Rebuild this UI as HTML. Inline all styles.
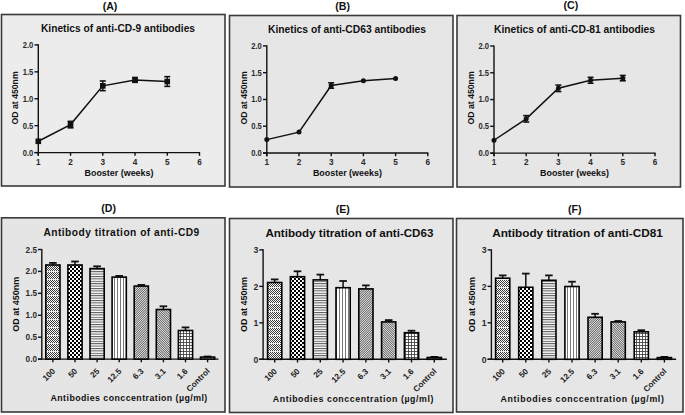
<!DOCTYPE html>
<html><head><meta charset="utf-8"><style>
html,body{margin:0;padding:0;background:#fff;}
svg{display:block;font-family:"Liberation Sans", sans-serif;}
</style></head><body>
<svg width="685" height="415" viewBox="0 0 685 415">
<defs>
<pattern id="p1" width="2" height="8" patternUnits="userSpaceOnUse"><rect width="2" height="8" fill="#fff"/><rect x="0" y="0" width="1" height="1" fill="#3a3a3a"/><rect x="1" y="1" width="1" height="1" fill="#3a3a3a"/><rect x="0" y="2" width="1" height="1" fill="#3a3a3a"/><rect x="1" y="3" width="1" height="1" fill="#3a3a3a"/><rect x="0" y="4" width="1" height="1" fill="#3a3a3a"/><rect x="1" y="5" width="1" height="1" fill="#3a3a3a"/><rect x="0" y="6" width="1" height="1" fill="#3a3a3a"/><rect y="7" width="2" height="1" fill="#e8e8e8"/></pattern>
<pattern id="p2" width="4" height="4" patternUnits="userSpaceOnUse"><rect width="4" height="4" fill="#fff"/><rect width="2" height="2" fill="#000"/><rect x="2" y="2" width="2" height="2" fill="#000"/></pattern>
<pattern id="p3" width="4" height="2.4" patternUnits="userSpaceOnUse"><rect width="4" height="2.4" fill="#fff"/><rect width="4" height="1" fill="#555"/></pattern>
<pattern id="p4" width="3" height="4" patternUnits="userSpaceOnUse"><rect width="3" height="4" fill="#fff"/><rect width="1" height="4" fill="#777"/></pattern>
<pattern id="p5" width="1.6" height="1.6" patternUnits="userSpaceOnUse" patternTransform="rotate(45)"><rect width="1.6" height="1.6" fill="#eee"/><rect width="0.7" height="1.6" fill="#444"/></pattern>
<pattern id="p6" width="1.6" height="1.6" patternUnits="userSpaceOnUse" patternTransform="rotate(-45)"><rect width="1.6" height="1.6" fill="#eee"/><rect width="0.7" height="1.6" fill="#444"/></pattern>
<pattern id="p7" width="3" height="3" patternUnits="userSpaceOnUse"><rect width="3" height="3" fill="#fff"/><rect width="3" height="0.8" fill="#333"/><rect width="0.8" height="3" fill="#333"/></pattern>
<pattern id="p8" width="3" height="2" patternUnits="userSpaceOnUse"><rect width="3" height="2" fill="#fff"/><rect width="1.5" height="2" fill="#888"/></pattern>
</defs>
<rect x="1.5" y="14.5" width="223.5" height="171.5" fill="#ececec" stroke="#3a3a3a" stroke-width="1.6"/>
<rect x="229.5" y="15.5" width="223.5" height="171.5" fill="#e6e6e6" stroke="#3a3a3a" stroke-width="1.6"/>
<rect x="457" y="15.5" width="223.5" height="171.5" fill="#e6e6e6" stroke="#3a3a3a" stroke-width="1.6"/>
<rect x="1.5" y="217.8" width="223.5" height="194.2" fill="#e5e5e5" stroke="#3a3a3a" stroke-width="1.6"/>
<rect x="229.5" y="218.5" width="223.5" height="194.0" fill="#e6e6e6" stroke="#3a3a3a" stroke-width="1.6"/>
<rect x="456.5" y="218.5" width="226.5" height="193.5" fill="#e6e6e6" stroke="#3a3a3a" stroke-width="1.6"/>
<text x="110.00" y="10.00" font-size="10.6" text-anchor="middle" font-weight="bold" fill="#111" >(A)</text>
<text x="342.60" y="9.60" font-size="10.6" text-anchor="middle" font-weight="bold" fill="#111" >(B)</text>
<text x="570.90" y="9.20" font-size="10.6" text-anchor="middle" font-weight="bold" fill="#111" >(C)</text>
<text x="108.70" y="212.30" font-size="10.6" text-anchor="middle" font-weight="bold" fill="#111" >(D)</text>
<text x="342.80" y="213.00" font-size="10.6" text-anchor="middle" font-weight="bold" fill="#111" >(E)</text>
<text x="574.80" y="213.00" font-size="10.6" text-anchor="middle" font-weight="bold" fill="#111" >(F)</text>
<text x="118.00" y="31.60" font-size="10.2" text-anchor="middle" font-weight="bold" fill="#111" textLength="154" lengthAdjust="spacingAndGlyphs" >Kinetics of anti-CD-9 antibodies</text>
<line x1="38.30" y1="44.30" x2="38.30" y2="155.80" stroke="#111" stroke-width="1.4"/>
<line x1="34.50" y1="152.60" x2="200.10" y2="152.60" stroke="#111" stroke-width="1.4"/>
<line x1="34.50" y1="152.60" x2="38.30" y2="152.60" stroke="#111" stroke-width="1.4"/>
<text x="33.30" y="155.50" font-size="8.2" text-anchor="end" font-weight="bold" fill="#2a2a2a" textLength="10.6" lengthAdjust="spacingAndGlyphs" >0.0</text>
<line x1="34.50" y1="125.67" x2="38.30" y2="125.67" stroke="#111" stroke-width="1.4"/>
<text x="33.30" y="128.57" font-size="8.2" text-anchor="end" font-weight="bold" fill="#2a2a2a" textLength="10.6" lengthAdjust="spacingAndGlyphs" >0.5</text>
<line x1="34.50" y1="98.75" x2="38.30" y2="98.75" stroke="#111" stroke-width="1.4"/>
<text x="33.30" y="101.65" font-size="8.2" text-anchor="end" font-weight="bold" fill="#2a2a2a" textLength="10.6" lengthAdjust="spacingAndGlyphs" >1.0</text>
<line x1="34.50" y1="71.83" x2="38.30" y2="71.83" stroke="#111" stroke-width="1.4"/>
<text x="33.30" y="74.73" font-size="8.2" text-anchor="end" font-weight="bold" fill="#2a2a2a" textLength="10.6" lengthAdjust="spacingAndGlyphs" >1.5</text>
<line x1="34.50" y1="44.90" x2="38.30" y2="44.90" stroke="#111" stroke-width="1.4"/>
<text x="33.30" y="47.80" font-size="8.2" text-anchor="end" font-weight="bold" fill="#2a2a2a" textLength="10.6" lengthAdjust="spacingAndGlyphs" >2.0</text>
<line x1="38.30" y1="152.60" x2="38.30" y2="155.80" stroke="#111" stroke-width="1.4"/>
<text x="38.30" y="164.80" font-size="8.2" text-anchor="middle" font-weight="bold" fill="#2a2a2a" >1</text>
<line x1="70.54" y1="152.60" x2="70.54" y2="155.80" stroke="#111" stroke-width="1.4"/>
<text x="70.54" y="164.80" font-size="8.2" text-anchor="middle" font-weight="bold" fill="#2a2a2a" >2</text>
<line x1="102.78" y1="152.60" x2="102.78" y2="155.80" stroke="#111" stroke-width="1.4"/>
<text x="102.78" y="164.80" font-size="8.2" text-anchor="middle" font-weight="bold" fill="#2a2a2a" >3</text>
<line x1="135.02" y1="152.60" x2="135.02" y2="155.80" stroke="#111" stroke-width="1.4"/>
<text x="135.02" y="164.80" font-size="8.2" text-anchor="middle" font-weight="bold" fill="#2a2a2a" >4</text>
<line x1="167.26" y1="152.60" x2="167.26" y2="155.80" stroke="#111" stroke-width="1.4"/>
<text x="167.26" y="164.80" font-size="8.2" text-anchor="middle" font-weight="bold" fill="#2a2a2a" >5</text>
<line x1="199.50" y1="152.60" x2="199.50" y2="155.80" stroke="#111" stroke-width="1.4"/>
<text x="199.50" y="164.80" font-size="8.2" text-anchor="middle" font-weight="bold" fill="#2a2a2a" >6</text>
<text transform="translate(15.30,97.9) rotate(-90)" x="0" y="3" font-size="8.7" text-anchor="middle" font-weight="bold" fill="#111" textLength="53" lengthAdjust="spacingAndGlyphs">OD at 450nm</text>
<text x="119.00" y="176.20" font-size="9" text-anchor="middle" font-weight="bold" fill="#111" textLength="69" lengthAdjust="spacingAndGlyphs" >Booster (weeks)</text>
<polyline fill="none" stroke="#111" stroke-width="1.5" points="38.30,141.29 70.54,124.60 102.78,85.83 135.02,79.90 167.26,81.52"/>
<rect x="35.50" y="138.49" width="5.6" height="5.6" fill="#111"/>
<line x1="70.54" y1="121.37" x2="70.54" y2="127.83" stroke="#111" stroke-width="1.4"/>
<line x1="67.54" y1="121.37" x2="73.54" y2="121.37" stroke="#111" stroke-width="1.6"/>
<line x1="67.54" y1="127.83" x2="73.54" y2="127.83" stroke="#111" stroke-width="1.6"/>
<rect x="67.74" y="121.80" width="5.6" height="5.6" fill="#111"/>
<line x1="102.78" y1="80.98" x2="102.78" y2="90.67" stroke="#111" stroke-width="1.4"/>
<line x1="99.78" y1="80.98" x2="105.78" y2="80.98" stroke="#111" stroke-width="1.6"/>
<line x1="99.78" y1="90.67" x2="105.78" y2="90.67" stroke="#111" stroke-width="1.6"/>
<rect x="99.98" y="83.03" width="5.6" height="5.6" fill="#111"/>
<line x1="135.02" y1="77.48" x2="135.02" y2="82.33" stroke="#111" stroke-width="1.4"/>
<line x1="132.02" y1="77.48" x2="138.02" y2="77.48" stroke="#111" stroke-width="1.6"/>
<line x1="132.02" y1="82.33" x2="138.02" y2="82.33" stroke="#111" stroke-width="1.6"/>
<rect x="132.22" y="77.10" width="5.6" height="5.6" fill="#111"/>
<line x1="167.26" y1="76.67" x2="167.26" y2="86.36" stroke="#111" stroke-width="1.4"/>
<line x1="164.26" y1="76.67" x2="170.26" y2="76.67" stroke="#111" stroke-width="1.6"/>
<line x1="164.26" y1="86.36" x2="170.26" y2="86.36" stroke="#111" stroke-width="1.6"/>
<rect x="164.46" y="78.72" width="5.6" height="5.6" fill="#111"/>
<text x="347.00" y="33.00" font-size="10.2" text-anchor="middle" font-weight="bold" fill="#111" textLength="158" lengthAdjust="spacingAndGlyphs" >Kinetics of anti-CD63 antibodies</text>
<line x1="266.80" y1="45.30" x2="266.80" y2="156.20" stroke="#111" stroke-width="1.4"/>
<line x1="263.00" y1="153.00" x2="428.40" y2="153.00" stroke="#111" stroke-width="1.4"/>
<line x1="263.00" y1="153.00" x2="266.80" y2="153.00" stroke="#111" stroke-width="1.4"/>
<text x="261.80" y="155.90" font-size="8.2" text-anchor="end" font-weight="bold" fill="#2a2a2a" textLength="10.6" lengthAdjust="spacingAndGlyphs" >0.0</text>
<line x1="263.00" y1="126.22" x2="266.80" y2="126.22" stroke="#111" stroke-width="1.4"/>
<text x="261.80" y="129.12" font-size="8.2" text-anchor="end" font-weight="bold" fill="#2a2a2a" textLength="10.6" lengthAdjust="spacingAndGlyphs" >0.5</text>
<line x1="263.00" y1="99.45" x2="266.80" y2="99.45" stroke="#111" stroke-width="1.4"/>
<text x="261.80" y="102.35" font-size="8.2" text-anchor="end" font-weight="bold" fill="#2a2a2a" textLength="10.6" lengthAdjust="spacingAndGlyphs" >1.0</text>
<line x1="263.00" y1="72.68" x2="266.80" y2="72.68" stroke="#111" stroke-width="1.4"/>
<text x="261.80" y="75.58" font-size="8.2" text-anchor="end" font-weight="bold" fill="#2a2a2a" textLength="10.6" lengthAdjust="spacingAndGlyphs" >1.5</text>
<line x1="263.00" y1="45.90" x2="266.80" y2="45.90" stroke="#111" stroke-width="1.4"/>
<text x="261.80" y="48.80" font-size="8.2" text-anchor="end" font-weight="bold" fill="#2a2a2a" textLength="10.6" lengthAdjust="spacingAndGlyphs" >2.0</text>
<line x1="266.80" y1="153.00" x2="266.80" y2="156.20" stroke="#111" stroke-width="1.4"/>
<text x="266.80" y="165.20" font-size="8.2" text-anchor="middle" font-weight="bold" fill="#2a2a2a" >1</text>
<line x1="299.00" y1="153.00" x2="299.00" y2="156.20" stroke="#111" stroke-width="1.4"/>
<text x="299.00" y="165.20" font-size="8.2" text-anchor="middle" font-weight="bold" fill="#2a2a2a" >2</text>
<line x1="331.20" y1="153.00" x2="331.20" y2="156.20" stroke="#111" stroke-width="1.4"/>
<text x="331.20" y="165.20" font-size="8.2" text-anchor="middle" font-weight="bold" fill="#2a2a2a" >3</text>
<line x1="363.40" y1="153.00" x2="363.40" y2="156.20" stroke="#111" stroke-width="1.4"/>
<text x="363.40" y="165.20" font-size="8.2" text-anchor="middle" font-weight="bold" fill="#2a2a2a" >4</text>
<line x1="395.60" y1="153.00" x2="395.60" y2="156.20" stroke="#111" stroke-width="1.4"/>
<text x="395.60" y="165.20" font-size="8.2" text-anchor="middle" font-weight="bold" fill="#2a2a2a" >5</text>
<line x1="427.80" y1="153.00" x2="427.80" y2="156.20" stroke="#111" stroke-width="1.4"/>
<text x="427.80" y="165.20" font-size="8.2" text-anchor="middle" font-weight="bold" fill="#2a2a2a" >6</text>
<text transform="translate(243.60,97.9) rotate(-90)" x="0" y="3" font-size="8.7" text-anchor="middle" font-weight="bold" fill="#111" textLength="53" lengthAdjust="spacingAndGlyphs">OD at 450nm</text>
<text x="347.40" y="176.40" font-size="9" text-anchor="middle" font-weight="bold" fill="#111" textLength="69" lengthAdjust="spacingAndGlyphs" >Booster (weeks)</text>
<polyline fill="none" stroke="#111" stroke-width="1.5" points="266.80,139.61 299.00,132.12 331.20,85.53 363.40,80.71 395.60,78.57"/>
<circle cx="266.80" cy="139.61" r="2.5" fill="#111"/>
<circle cx="299.00" cy="132.12" r="2.5" fill="#111"/>
<line x1="331.20" y1="82.85" x2="331.20" y2="88.20" stroke="#111" stroke-width="1.4"/>
<line x1="328.20" y1="82.85" x2="334.20" y2="82.85" stroke="#111" stroke-width="1.6"/>
<line x1="328.20" y1="88.20" x2="334.20" y2="88.20" stroke="#111" stroke-width="1.6"/>
<circle cx="331.20" cy="85.53" r="2.5" fill="#111"/>
<circle cx="363.40" cy="80.71" r="2.5" fill="#111"/>
<circle cx="395.60" cy="78.57" r="2.5" fill="#111"/>
<text x="574.50" y="33.00" font-size="10.2" text-anchor="middle" font-weight="bold" fill="#111" textLength="161" lengthAdjust="spacingAndGlyphs" >Kinetics of anti-CD-81 antibodies</text>
<line x1="494.00" y1="45.40" x2="494.00" y2="156.30" stroke="#111" stroke-width="1.4"/>
<line x1="490.20" y1="153.10" x2="655.60" y2="153.10" stroke="#111" stroke-width="1.4"/>
<line x1="490.20" y1="153.10" x2="494.00" y2="153.10" stroke="#111" stroke-width="1.4"/>
<text x="489.00" y="156.00" font-size="8.2" text-anchor="end" font-weight="bold" fill="#2a2a2a" textLength="10.6" lengthAdjust="spacingAndGlyphs" >0.0</text>
<line x1="490.20" y1="126.32" x2="494.00" y2="126.32" stroke="#111" stroke-width="1.4"/>
<text x="489.00" y="129.22" font-size="8.2" text-anchor="end" font-weight="bold" fill="#2a2a2a" textLength="10.6" lengthAdjust="spacingAndGlyphs" >0.5</text>
<line x1="490.20" y1="99.55" x2="494.00" y2="99.55" stroke="#111" stroke-width="1.4"/>
<text x="489.00" y="102.45" font-size="8.2" text-anchor="end" font-weight="bold" fill="#2a2a2a" textLength="10.6" lengthAdjust="spacingAndGlyphs" >1.0</text>
<line x1="490.20" y1="72.78" x2="494.00" y2="72.78" stroke="#111" stroke-width="1.4"/>
<text x="489.00" y="75.68" font-size="8.2" text-anchor="end" font-weight="bold" fill="#2a2a2a" textLength="10.6" lengthAdjust="spacingAndGlyphs" >1.5</text>
<line x1="490.20" y1="46.00" x2="494.00" y2="46.00" stroke="#111" stroke-width="1.4"/>
<text x="489.00" y="48.90" font-size="8.2" text-anchor="end" font-weight="bold" fill="#2a2a2a" textLength="10.6" lengthAdjust="spacingAndGlyphs" >2.0</text>
<line x1="494.00" y1="153.10" x2="494.00" y2="156.30" stroke="#111" stroke-width="1.4"/>
<text x="494.00" y="165.30" font-size="8.2" text-anchor="middle" font-weight="bold" fill="#2a2a2a" >1</text>
<line x1="526.20" y1="153.10" x2="526.20" y2="156.30" stroke="#111" stroke-width="1.4"/>
<text x="526.20" y="165.30" font-size="8.2" text-anchor="middle" font-weight="bold" fill="#2a2a2a" >2</text>
<line x1="558.40" y1="153.10" x2="558.40" y2="156.30" stroke="#111" stroke-width="1.4"/>
<text x="558.40" y="165.30" font-size="8.2" text-anchor="middle" font-weight="bold" fill="#2a2a2a" >3</text>
<line x1="590.60" y1="153.10" x2="590.60" y2="156.30" stroke="#111" stroke-width="1.4"/>
<text x="590.60" y="165.30" font-size="8.2" text-anchor="middle" font-weight="bold" fill="#2a2a2a" >4</text>
<line x1="622.80" y1="153.10" x2="622.80" y2="156.30" stroke="#111" stroke-width="1.4"/>
<text x="622.80" y="165.30" font-size="8.2" text-anchor="middle" font-weight="bold" fill="#2a2a2a" >5</text>
<line x1="655.00" y1="153.10" x2="655.00" y2="156.30" stroke="#111" stroke-width="1.4"/>
<text x="655.00" y="165.30" font-size="8.2" text-anchor="middle" font-weight="bold" fill="#2a2a2a" >6</text>
<text transform="translate(470.70,97.9) rotate(-90)" x="0" y="3" font-size="8.7" text-anchor="middle" font-weight="bold" fill="#111" textLength="53" lengthAdjust="spacingAndGlyphs">OD at 450nm</text>
<text x="574.50" y="176.40" font-size="9" text-anchor="middle" font-weight="bold" fill="#111" textLength="69" lengthAdjust="spacingAndGlyphs" >Booster (weeks)</text>
<polyline fill="none" stroke="#111" stroke-width="1.5" points="494.00,140.25 526.20,118.83 558.40,88.30 590.60,80.27 622.80,78.13"/>
<circle cx="494.00" cy="140.25" r="2.5" fill="#111"/>
<line x1="526.20" y1="115.62" x2="526.20" y2="122.04" stroke="#111" stroke-width="1.4"/>
<line x1="523.20" y1="115.62" x2="529.20" y2="115.62" stroke="#111" stroke-width="1.6"/>
<line x1="523.20" y1="122.04" x2="529.20" y2="122.04" stroke="#111" stroke-width="1.6"/>
<circle cx="526.20" cy="118.83" r="2.5" fill="#111"/>
<line x1="558.40" y1="85.09" x2="558.40" y2="91.52" stroke="#111" stroke-width="1.4"/>
<line x1="555.40" y1="85.09" x2="561.40" y2="85.09" stroke="#111" stroke-width="1.6"/>
<line x1="555.40" y1="91.52" x2="561.40" y2="91.52" stroke="#111" stroke-width="1.6"/>
<circle cx="558.40" cy="88.30" r="2.5" fill="#111"/>
<line x1="590.60" y1="77.33" x2="590.60" y2="83.22" stroke="#111" stroke-width="1.4"/>
<line x1="587.60" y1="77.33" x2="593.60" y2="77.33" stroke="#111" stroke-width="1.6"/>
<line x1="587.60" y1="83.22" x2="593.60" y2="83.22" stroke="#111" stroke-width="1.6"/>
<circle cx="590.60" cy="80.27" r="2.5" fill="#111"/>
<line x1="622.80" y1="75.45" x2="622.80" y2="80.81" stroke="#111" stroke-width="1.4"/>
<line x1="619.80" y1="75.45" x2="625.80" y2="75.45" stroke="#111" stroke-width="1.6"/>
<line x1="619.80" y1="80.81" x2="625.80" y2="80.81" stroke="#111" stroke-width="1.6"/>
<circle cx="622.80" cy="78.13" r="2.5" fill="#111"/>
<text x="121.30" y="236.20" font-size="10.2" text-anchor="middle" font-weight="bold" fill="#111" textLength="155.8" lengthAdjust="spacing" >Antibody titration of anti-CD9</text>
<line x1="41.80" y1="248.90" x2="41.80" y2="359.70" stroke="#111" stroke-width="1.4"/>
<line x1="38.00" y1="359.10" x2="218.50" y2="359.10" stroke="#111" stroke-width="1.4"/>
<line x1="38.00" y1="359.10" x2="41.80" y2="359.10" stroke="#111" stroke-width="1.4"/>
<text x="37.00" y="362.10" font-size="8.2" text-anchor="end" font-weight="bold" fill="#2a2a2a" textLength="11.4" lengthAdjust="spacingAndGlyphs" >0.0</text>
<line x1="38.00" y1="337.18" x2="41.80" y2="337.18" stroke="#111" stroke-width="1.4"/>
<text x="37.00" y="340.18" font-size="8.2" text-anchor="end" font-weight="bold" fill="#2a2a2a" textLength="11.4" lengthAdjust="spacingAndGlyphs" >0.5</text>
<line x1="38.00" y1="315.26" x2="41.80" y2="315.26" stroke="#111" stroke-width="1.4"/>
<text x="37.00" y="318.26" font-size="8.2" text-anchor="end" font-weight="bold" fill="#2a2a2a" textLength="11.4" lengthAdjust="spacingAndGlyphs" >1.0</text>
<line x1="38.00" y1="293.34" x2="41.80" y2="293.34" stroke="#111" stroke-width="1.4"/>
<text x="37.00" y="296.34" font-size="8.2" text-anchor="end" font-weight="bold" fill="#2a2a2a" textLength="11.4" lengthAdjust="spacingAndGlyphs" >1.5</text>
<line x1="38.00" y1="271.42" x2="41.80" y2="271.42" stroke="#111" stroke-width="1.4"/>
<text x="37.00" y="274.42" font-size="8.2" text-anchor="end" font-weight="bold" fill="#2a2a2a" textLength="11.4" lengthAdjust="spacingAndGlyphs" >2.0</text>
<line x1="38.00" y1="249.50" x2="41.80" y2="249.50" stroke="#111" stroke-width="1.4"/>
<text x="37.00" y="252.50" font-size="8.2" text-anchor="end" font-weight="bold" fill="#2a2a2a" textLength="11.4" lengthAdjust="spacingAndGlyphs" >2.5</text>
<line x1="52.90" y1="262.90" x2="52.90" y2="265.20" stroke="#111" stroke-width="1.5"/>
<line x1="49.10" y1="262.90" x2="56.70" y2="262.90" stroke="#111" stroke-width="1.8"/>
<rect x="45.80" y="265.00" width="14.2" height="94.10" fill="url(#p1)" stroke="#000" stroke-width="1.6"/>
<line x1="52.90" y1="359.10" x2="52.90" y2="362.30" stroke="#111" stroke-width="1.4"/>
<text transform="translate(53.60,369.60) rotate(-45)" x="0" y="3" font-size="8.2" text-anchor="end" font-weight="bold" fill="#222">100</text>
<line x1="75.00" y1="261.50" x2="75.00" y2="265.20" stroke="#111" stroke-width="1.5"/>
<line x1="71.20" y1="261.50" x2="78.80" y2="261.50" stroke="#111" stroke-width="1.8"/>
<rect x="67.90" y="265.00" width="14.2" height="94.10" fill="url(#p2)" stroke="#000" stroke-width="1.6"/>
<line x1="75.00" y1="359.10" x2="75.00" y2="362.30" stroke="#111" stroke-width="1.4"/>
<text transform="translate(75.70,369.60) rotate(-45)" x="0" y="3" font-size="8.2" text-anchor="end" font-weight="bold" fill="#222">50</text>
<line x1="97.10" y1="266.30" x2="97.10" y2="268.80" stroke="#111" stroke-width="1.5"/>
<line x1="93.30" y1="266.30" x2="100.90" y2="266.30" stroke="#111" stroke-width="1.8"/>
<rect x="90.00" y="268.60" width="14.2" height="90.50" fill="url(#p3)" stroke="#000" stroke-width="1.6"/>
<line x1="97.10" y1="359.10" x2="97.10" y2="362.30" stroke="#111" stroke-width="1.4"/>
<text transform="translate(97.80,369.60) rotate(-45)" x="0" y="3" font-size="8.2" text-anchor="end" font-weight="bold" fill="#222">25</text>
<line x1="119.20" y1="275.90" x2="119.20" y2="277.30" stroke="#111" stroke-width="1.5"/>
<line x1="115.40" y1="275.90" x2="123.00" y2="275.90" stroke="#111" stroke-width="1.8"/>
<rect x="112.10" y="277.10" width="14.2" height="82.00" fill="url(#p4)" stroke="#000" stroke-width="1.6"/>
<line x1="119.20" y1="359.10" x2="119.20" y2="362.30" stroke="#111" stroke-width="1.4"/>
<text transform="translate(119.90,369.60) rotate(-45)" x="0" y="3" font-size="8.2" text-anchor="end" font-weight="bold" fill="#222">12.5</text>
<line x1="141.30" y1="284.90" x2="141.30" y2="286.30" stroke="#111" stroke-width="1.5"/>
<line x1="137.50" y1="284.90" x2="145.10" y2="284.90" stroke="#111" stroke-width="1.8"/>
<rect x="134.20" y="286.10" width="14.2" height="73.00" fill="url(#p5)" stroke="#000" stroke-width="1.6"/>
<line x1="141.30" y1="359.10" x2="141.30" y2="362.30" stroke="#111" stroke-width="1.4"/>
<text transform="translate(142.00,369.60) rotate(-45)" x="0" y="3" font-size="8.2" text-anchor="end" font-weight="bold" fill="#222">6.3</text>
<line x1="163.40" y1="306.30" x2="163.40" y2="309.70" stroke="#111" stroke-width="1.5"/>
<line x1="159.60" y1="306.30" x2="167.20" y2="306.30" stroke="#111" stroke-width="1.8"/>
<rect x="156.30" y="309.50" width="14.2" height="49.60" fill="url(#p6)" stroke="#000" stroke-width="1.6"/>
<line x1="163.40" y1="359.10" x2="163.40" y2="362.30" stroke="#111" stroke-width="1.4"/>
<text transform="translate(164.10,369.60) rotate(-45)" x="0" y="3" font-size="8.2" text-anchor="end" font-weight="bold" fill="#222">3.1</text>
<line x1="185.50" y1="327.40" x2="185.50" y2="330.70" stroke="#111" stroke-width="1.5"/>
<line x1="181.70" y1="327.40" x2="189.30" y2="327.40" stroke="#111" stroke-width="1.8"/>
<rect x="178.40" y="330.50" width="14.2" height="28.60" fill="url(#p7)" stroke="#000" stroke-width="1.6"/>
<line x1="185.50" y1="359.10" x2="185.50" y2="362.30" stroke="#111" stroke-width="1.4"/>
<text transform="translate(186.20,369.60) rotate(-45)" x="0" y="3" font-size="8.2" text-anchor="end" font-weight="bold" fill="#222">1.6</text>
<line x1="207.60" y1="356.50" x2="207.60" y2="357.30" stroke="#111" stroke-width="1.5"/>
<line x1="203.80" y1="356.50" x2="211.40" y2="356.50" stroke="#111" stroke-width="1.8"/>
<rect x="200.50" y="357.10" width="14.2" height="2.00" fill="url(#p8)" stroke="#000" stroke-width="1.6"/>
<line x1="207.60" y1="359.10" x2="207.60" y2="362.30" stroke="#111" stroke-width="1.4"/>
<text transform="translate(208.30,369.60) rotate(-45)" x="0" y="3" font-size="8.2" text-anchor="end" font-weight="bold" fill="#222">Control</text>
<text transform="translate(16.40,304.30) rotate(-90)" x="0" y="3" font-size="8.8" text-anchor="middle" font-weight="bold" fill="#111" textLength="55" lengthAdjust="spacingAndGlyphs">OD at 450nm</text>
<text x="128.90" y="401.20" font-size="8.8" text-anchor="middle" font-weight="bold" fill="#111" textLength="156.8" lengthAdjust="spacing">Antibodies conccentration (µg/ml)</text>
<text x="349.40" y="237.20" font-size="11.5" text-anchor="middle" font-weight="bold" fill="#111" textLength="168" lengthAdjust="spacingAndGlyphs" >Antibody titration of anti-CD63</text>
<line x1="263.10" y1="249.30" x2="263.10" y2="359.90" stroke="#111" stroke-width="1.4"/>
<line x1="259.30" y1="359.30" x2="446.90" y2="359.30" stroke="#111" stroke-width="1.4"/>
<line x1="259.30" y1="359.30" x2="263.10" y2="359.30" stroke="#111" stroke-width="1.4"/>
<text x="258.30" y="362.70" font-size="9.4" text-anchor="end" font-weight="bold" fill="#2a2a2a" textLength="4.8" lengthAdjust="spacingAndGlyphs" >0</text>
<line x1="259.30" y1="322.83" x2="263.10" y2="322.83" stroke="#111" stroke-width="1.4"/>
<text x="258.30" y="326.23" font-size="9.4" text-anchor="end" font-weight="bold" fill="#2a2a2a" textLength="4.8" lengthAdjust="spacingAndGlyphs" >1</text>
<line x1="259.30" y1="286.37" x2="263.10" y2="286.37" stroke="#111" stroke-width="1.4"/>
<text x="258.30" y="289.77" font-size="9.4" text-anchor="end" font-weight="bold" fill="#2a2a2a" textLength="4.8" lengthAdjust="spacingAndGlyphs" >2</text>
<line x1="259.30" y1="249.90" x2="263.10" y2="249.90" stroke="#111" stroke-width="1.4"/>
<text x="258.30" y="253.30" font-size="9.4" text-anchor="end" font-weight="bold" fill="#2a2a2a" textLength="4.8" lengthAdjust="spacingAndGlyphs" >3</text>
<line x1="274.70" y1="279.40" x2="274.70" y2="282.70" stroke="#111" stroke-width="1.5"/>
<line x1="270.90" y1="279.40" x2="278.50" y2="279.40" stroke="#111" stroke-width="1.8"/>
<rect x="267.60" y="282.50" width="14.2" height="76.80" fill="url(#p1)" stroke="#000" stroke-width="1.6"/>
<line x1="274.70" y1="359.30" x2="274.70" y2="362.50" stroke="#111" stroke-width="1.4"/>
<text transform="translate(275.40,369.80) rotate(-45)" x="0" y="3" font-size="8.2" text-anchor="end" font-weight="bold" fill="#222">100</text>
<line x1="297.50" y1="271.30" x2="297.50" y2="276.90" stroke="#111" stroke-width="1.5"/>
<line x1="293.70" y1="271.30" x2="301.30" y2="271.30" stroke="#111" stroke-width="1.8"/>
<rect x="290.40" y="276.70" width="14.2" height="82.60" fill="url(#p2)" stroke="#000" stroke-width="1.6"/>
<line x1="297.50" y1="359.30" x2="297.50" y2="362.50" stroke="#111" stroke-width="1.4"/>
<text transform="translate(298.20,369.80) rotate(-45)" x="0" y="3" font-size="8.2" text-anchor="end" font-weight="bold" fill="#222">50</text>
<line x1="320.30" y1="274.60" x2="320.30" y2="280.10" stroke="#111" stroke-width="1.5"/>
<line x1="316.50" y1="274.60" x2="324.10" y2="274.60" stroke="#111" stroke-width="1.8"/>
<rect x="313.20" y="279.90" width="14.2" height="79.40" fill="url(#p3)" stroke="#000" stroke-width="1.6"/>
<line x1="320.30" y1="359.30" x2="320.30" y2="362.50" stroke="#111" stroke-width="1.4"/>
<text transform="translate(321.00,369.80) rotate(-45)" x="0" y="3" font-size="8.2" text-anchor="end" font-weight="bold" fill="#222">25</text>
<line x1="343.10" y1="281.00" x2="343.10" y2="287.90" stroke="#111" stroke-width="1.5"/>
<line x1="339.30" y1="281.00" x2="346.90" y2="281.00" stroke="#111" stroke-width="1.8"/>
<rect x="336.00" y="287.70" width="14.2" height="71.60" fill="url(#p4)" stroke="#000" stroke-width="1.6"/>
<line x1="343.10" y1="359.30" x2="343.10" y2="362.50" stroke="#111" stroke-width="1.4"/>
<text transform="translate(343.80,369.80) rotate(-45)" x="0" y="3" font-size="8.2" text-anchor="end" font-weight="bold" fill="#222">12.5</text>
<line x1="365.90" y1="285.40" x2="365.90" y2="289.10" stroke="#111" stroke-width="1.5"/>
<line x1="362.10" y1="285.40" x2="369.70" y2="285.40" stroke="#111" stroke-width="1.8"/>
<rect x="358.80" y="288.90" width="14.2" height="70.40" fill="url(#p5)" stroke="#000" stroke-width="1.6"/>
<line x1="365.90" y1="359.30" x2="365.90" y2="362.50" stroke="#111" stroke-width="1.4"/>
<text transform="translate(366.60,369.80) rotate(-45)" x="0" y="3" font-size="8.2" text-anchor="end" font-weight="bold" fill="#222">6.3</text>
<line x1="388.70" y1="320.10" x2="388.70" y2="322.10" stroke="#111" stroke-width="1.5"/>
<line x1="384.90" y1="320.10" x2="392.50" y2="320.10" stroke="#111" stroke-width="1.8"/>
<rect x="381.60" y="321.90" width="14.2" height="37.40" fill="url(#p6)" stroke="#000" stroke-width="1.6"/>
<line x1="388.70" y1="359.30" x2="388.70" y2="362.50" stroke="#111" stroke-width="1.4"/>
<text transform="translate(389.40,369.80) rotate(-45)" x="0" y="3" font-size="8.2" text-anchor="end" font-weight="bold" fill="#222">3.1</text>
<line x1="411.50" y1="330.70" x2="411.50" y2="332.90" stroke="#111" stroke-width="1.5"/>
<line x1="407.70" y1="330.70" x2="415.30" y2="330.70" stroke="#111" stroke-width="1.8"/>
<rect x="404.40" y="332.70" width="14.2" height="26.60" fill="url(#p7)" stroke="#000" stroke-width="1.6"/>
<line x1="411.50" y1="359.30" x2="411.50" y2="362.50" stroke="#111" stroke-width="1.4"/>
<text transform="translate(412.20,369.80) rotate(-45)" x="0" y="3" font-size="8.2" text-anchor="end" font-weight="bold" fill="#222">1.6</text>
<line x1="434.30" y1="356.90" x2="434.30" y2="357.70" stroke="#111" stroke-width="1.5"/>
<line x1="430.50" y1="356.90" x2="438.10" y2="356.90" stroke="#111" stroke-width="1.8"/>
<rect x="427.20" y="357.50" width="14.2" height="1.80" fill="url(#p8)" stroke="#000" stroke-width="1.6"/>
<line x1="434.30" y1="359.30" x2="434.30" y2="362.50" stroke="#111" stroke-width="1.4"/>
<text transform="translate(435.00,369.80) rotate(-45)" x="0" y="3" font-size="8.2" text-anchor="end" font-weight="bold" fill="#222">Control</text>
<text transform="translate(244.00,304.60) rotate(-90)" x="0" y="3" font-size="8.8" text-anchor="middle" font-weight="bold" fill="#111" textLength="55" lengthAdjust="spacingAndGlyphs">OD at 450nm</text>
<text x="353.10" y="401.80" font-size="8.8" text-anchor="middle" font-weight="bold" fill="#111" textLength="160.6" lengthAdjust="spacing">Antibodies conccentration (µg/ml)</text>
<text x="577.50" y="237.20" font-size="11.7" text-anchor="middle" font-weight="bold" fill="#111" textLength="170.6" lengthAdjust="spacingAndGlyphs" >Antibody titration of anti-CD81</text>
<line x1="491.40" y1="249.30" x2="491.40" y2="359.90" stroke="#111" stroke-width="1.4"/>
<line x1="487.60" y1="359.30" x2="676.10" y2="359.30" stroke="#111" stroke-width="1.4"/>
<line x1="487.60" y1="359.30" x2="491.40" y2="359.30" stroke="#111" stroke-width="1.4"/>
<text x="486.60" y="362.70" font-size="9.4" text-anchor="end" font-weight="bold" fill="#2a2a2a" textLength="4.8" lengthAdjust="spacingAndGlyphs" >0</text>
<line x1="487.60" y1="322.83" x2="491.40" y2="322.83" stroke="#111" stroke-width="1.4"/>
<text x="486.60" y="326.23" font-size="9.4" text-anchor="end" font-weight="bold" fill="#2a2a2a" textLength="4.8" lengthAdjust="spacingAndGlyphs" >1</text>
<line x1="487.60" y1="286.37" x2="491.40" y2="286.37" stroke="#111" stroke-width="1.4"/>
<text x="486.60" y="289.77" font-size="9.4" text-anchor="end" font-weight="bold" fill="#2a2a2a" textLength="4.8" lengthAdjust="spacingAndGlyphs" >2</text>
<line x1="487.60" y1="249.90" x2="491.40" y2="249.90" stroke="#111" stroke-width="1.4"/>
<text x="486.60" y="253.30" font-size="9.4" text-anchor="end" font-weight="bold" fill="#2a2a2a" textLength="4.8" lengthAdjust="spacingAndGlyphs" >3</text>
<line x1="502.70" y1="275.40" x2="502.70" y2="278.40" stroke="#111" stroke-width="1.5"/>
<line x1="498.90" y1="275.40" x2="506.50" y2="275.40" stroke="#111" stroke-width="1.8"/>
<rect x="495.60" y="278.20" width="14.2" height="81.10" fill="url(#p1)" stroke="#000" stroke-width="1.6"/>
<line x1="502.70" y1="359.30" x2="502.70" y2="362.50" stroke="#111" stroke-width="1.4"/>
<text transform="translate(503.40,369.80) rotate(-45)" x="0" y="3" font-size="8.2" text-anchor="end" font-weight="bold" fill="#222">100</text>
<line x1="525.80" y1="273.60" x2="525.80" y2="287.50" stroke="#111" stroke-width="1.5"/>
<line x1="522.00" y1="273.60" x2="529.60" y2="273.60" stroke="#111" stroke-width="1.8"/>
<rect x="518.70" y="287.30" width="14.2" height="72.00" fill="url(#p2)" stroke="#000" stroke-width="1.6"/>
<line x1="525.80" y1="359.30" x2="525.80" y2="362.50" stroke="#111" stroke-width="1.4"/>
<text transform="translate(526.50,369.80) rotate(-45)" x="0" y="3" font-size="8.2" text-anchor="end" font-weight="bold" fill="#222">50</text>
<line x1="548.90" y1="275.40" x2="548.90" y2="280.50" stroke="#111" stroke-width="1.5"/>
<line x1="545.10" y1="275.40" x2="552.70" y2="275.40" stroke="#111" stroke-width="1.8"/>
<rect x="541.80" y="280.30" width="14.2" height="79.00" fill="url(#p3)" stroke="#000" stroke-width="1.6"/>
<line x1="548.90" y1="359.30" x2="548.90" y2="362.50" stroke="#111" stroke-width="1.4"/>
<text transform="translate(549.60,369.80) rotate(-45)" x="0" y="3" font-size="8.2" text-anchor="end" font-weight="bold" fill="#222">25</text>
<line x1="572.00" y1="281.70" x2="572.00" y2="286.70" stroke="#111" stroke-width="1.5"/>
<line x1="568.20" y1="281.70" x2="575.80" y2="281.70" stroke="#111" stroke-width="1.8"/>
<rect x="564.90" y="286.50" width="14.2" height="72.80" fill="url(#p4)" stroke="#000" stroke-width="1.6"/>
<line x1="572.00" y1="359.30" x2="572.00" y2="362.50" stroke="#111" stroke-width="1.4"/>
<text transform="translate(572.70,369.80) rotate(-45)" x="0" y="3" font-size="8.2" text-anchor="end" font-weight="bold" fill="#222">12.5</text>
<line x1="595.10" y1="313.80" x2="595.10" y2="317.50" stroke="#111" stroke-width="1.5"/>
<line x1="591.30" y1="313.80" x2="598.90" y2="313.80" stroke="#111" stroke-width="1.8"/>
<rect x="588.00" y="317.30" width="14.2" height="42.00" fill="url(#p5)" stroke="#000" stroke-width="1.6"/>
<line x1="595.10" y1="359.30" x2="595.10" y2="362.50" stroke="#111" stroke-width="1.4"/>
<text transform="translate(595.80,369.80) rotate(-45)" x="0" y="3" font-size="8.2" text-anchor="end" font-weight="bold" fill="#222">6.3</text>
<line x1="618.20" y1="321.00" x2="618.20" y2="322.10" stroke="#111" stroke-width="1.5"/>
<line x1="614.40" y1="321.00" x2="622.00" y2="321.00" stroke="#111" stroke-width="1.8"/>
<rect x="611.10" y="321.90" width="14.2" height="37.40" fill="url(#p6)" stroke="#000" stroke-width="1.6"/>
<line x1="618.20" y1="359.30" x2="618.20" y2="362.50" stroke="#111" stroke-width="1.4"/>
<text transform="translate(618.90,369.80) rotate(-45)" x="0" y="3" font-size="8.2" text-anchor="end" font-weight="bold" fill="#222">3.1</text>
<line x1="641.30" y1="330.20" x2="641.30" y2="332.00" stroke="#111" stroke-width="1.5"/>
<line x1="637.50" y1="330.20" x2="645.10" y2="330.20" stroke="#111" stroke-width="1.8"/>
<rect x="634.20" y="331.80" width="14.2" height="27.50" fill="url(#p7)" stroke="#000" stroke-width="1.6"/>
<line x1="641.30" y1="359.30" x2="641.30" y2="362.50" stroke="#111" stroke-width="1.4"/>
<text transform="translate(642.00,369.80) rotate(-45)" x="0" y="3" font-size="8.2" text-anchor="end" font-weight="bold" fill="#222">1.6</text>
<line x1="664.40" y1="356.90" x2="664.40" y2="357.80" stroke="#111" stroke-width="1.5"/>
<line x1="660.60" y1="356.90" x2="668.20" y2="356.90" stroke="#111" stroke-width="1.8"/>
<rect x="657.30" y="357.60" width="14.2" height="1.70" fill="url(#p8)" stroke="#000" stroke-width="1.6"/>
<line x1="664.40" y1="359.30" x2="664.40" y2="362.50" stroke="#111" stroke-width="1.4"/>
<text transform="translate(665.10,369.80) rotate(-45)" x="0" y="3" font-size="8.2" text-anchor="end" font-weight="bold" fill="#222">Control</text>
<text transform="translate(472.00,304.60) rotate(-90)" x="0" y="3" font-size="8.8" text-anchor="middle" font-weight="bold" fill="#111" textLength="55" lengthAdjust="spacingAndGlyphs">OD at 450nm</text>
<text x="582.20" y="401.80" font-size="8.8" text-anchor="middle" font-weight="bold" fill="#111" textLength="163.4" lengthAdjust="spacing">Antibodies conccentration (µg/ml)</text>
</svg>
</body></html>
